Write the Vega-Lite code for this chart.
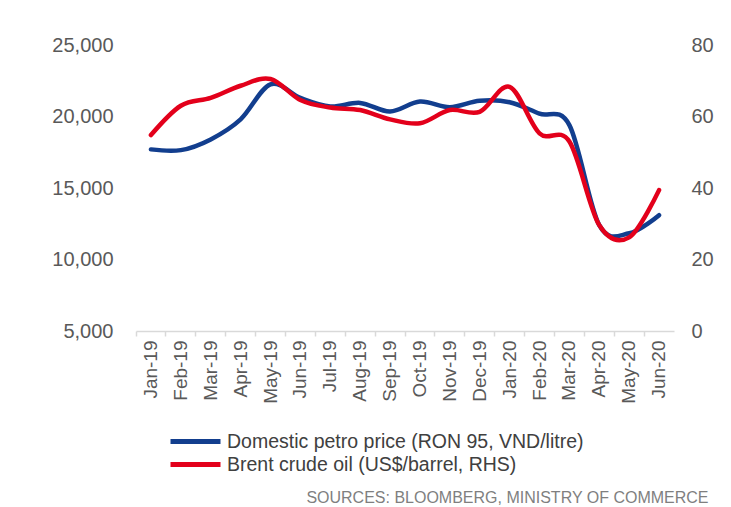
{
  "$schema": "https://vega.github.io/schema/vega-lite/v6.json",
  "width": 538,
  "height": 286,
  "autosize": {"type": "none"},
  "padding": {"left": 136, "top": 45, "right": 57, "bottom": 176},
  "background": "white",
  "config": {
    "view": {"stroke": null},
    "font": "Liberation Sans"
  },
  "data": {
    "values": [
      {"month": "Jan-19", "series": "Domestic petro price (RON 95, VND/litre)", "value": 17700},
      {"month": "Feb-19", "series": "Domestic petro price (RON 95, VND/litre)", "value": 17650},
      {"month": "Mar-19", "series": "Domestic petro price (RON 95, VND/litre)", "value": 18400},
      {"month": "Apr-19", "series": "Domestic petro price (RON 95, VND/litre)", "value": 19800},
      {"month": "May-19", "series": "Domestic petro price (RON 95, VND/litre)", "value": 22250},
      {"month": "Jun-19", "series": "Domestic petro price (RON 95, VND/litre)", "value": 21300},
      {"month": "Jul-19", "series": "Domestic petro price (RON 95, VND/litre)", "value": 20700},
      {"month": "Aug-19", "series": "Domestic petro price (RON 95, VND/litre)", "value": 20950},
      {"month": "Sep-19", "series": "Domestic petro price (RON 95, VND/litre)", "value": 20350},
      {"month": "Oct-19", "series": "Domestic petro price (RON 95, VND/litre)", "value": 21050},
      {"month": "Nov-19", "series": "Domestic petro price (RON 95, VND/litre)", "value": 20650},
      {"month": "Dec-19", "series": "Domestic petro price (RON 95, VND/litre)", "value": 21100},
      {"month": "Jan-20", "series": "Domestic petro price (RON 95, VND/litre)", "value": 21000},
      {"month": "Feb-20", "series": "Domestic petro price (RON 95, VND/litre)", "value": 20200},
      {"month": "Mar-20", "series": "Domestic petro price (RON 95, VND/litre)", "value": 19400},
      {"month": "Apr-20", "series": "Domestic petro price (RON 95, VND/litre)", "value": 12400},
      {"month": "May-20", "series": "Domestic petro price (RON 95, VND/litre)", "value": 11830},
      {"month": "Jun-20", "series": "Domestic petro price (RON 95, VND/litre)", "value": 13100},
      {"month": "Jan-19", "series": "Brent crude oil (US$/barrel, RHS)", "value": 54.8},
      {"month": "Feb-19", "series": "Brent crude oil (US$/barrel, RHS)", "value": 63.0},
      {"month": "Mar-19", "series": "Brent crude oil (US$/barrel, RHS)", "value": 65.2},
      {"month": "Apr-19", "series": "Brent crude oil (US$/barrel, RHS)", "value": 68.6},
      {"month": "May-19", "series": "Brent crude oil (US$/barrel, RHS)", "value": 70.5},
      {"month": "Jun-19", "series": "Brent crude oil (US$/barrel, RHS)", "value": 64.6},
      {"month": "Jul-19", "series": "Brent crude oil (US$/barrel, RHS)", "value": 62.5},
      {"month": "Aug-19", "series": "Brent crude oil (US$/barrel, RHS)", "value": 61.8},
      {"month": "Sep-19", "series": "Brent crude oil (US$/barrel, RHS)", "value": 59.2},
      {"month": "Oct-19", "series": "Brent crude oil (US$/barrel, RHS)", "value": 58.1},
      {"month": "Nov-19", "series": "Brent crude oil (US$/barrel, RHS)", "value": 61.8},
      {"month": "Dec-19", "series": "Brent crude oil (US$/barrel, RHS)", "value": 61.3},
      {"month": "Jan-20", "series": "Brent crude oil (US$/barrel, RHS)", "value": 68.3},
      {"month": "Feb-20", "series": "Brent crude oil (US$/barrel, RHS)", "value": 55.3},
      {"month": "Mar-20", "series": "Brent crude oil (US$/barrel, RHS)", "value": 53.0},
      {"month": "Apr-20", "series": "Brent crude oil (US$/barrel, RHS)", "value": 29.6},
      {"month": "May-20", "series": "Brent crude oil (US$/barrel, RHS)", "value": 26.2},
      {"month": "Jun-20", "series": "Brent crude oil (US$/barrel, RHS)", "value": 39.4}
    ]
  },
  "encoding": {
    "x": {
      "field": "month",
      "type": "ordinal",
      "sort": null,
      "scale": {"type": "band", "paddingInner": 0, "paddingOuter": 0},
      "axis": {
        "title": "SOURCES: BLOOMBERG, MINISTRY OF COMMERCE",
        "titleX": 572,
        "titleY": 171,
        "titleAlign": "right",
        "titleAnchor": null,
        "titleBaseline": "alphabetic",
        "titleFontSize": 16,
        "titleFontWeight": "normal",
        "titleColor": "#7f7f7f",
        "titleFont": "Liberation Sans",
        "labelAngle": -90,
        "labelFontSize": 19,
        "labelColor": "#595959",
        "labelFont": "Liberation Sans",
        "labelPadding": 4,
        "bandPosition": 0,
        "domainColor": "#d9d9d9",
        "domainWidth": 1.5,
        "tickColor": "#d9d9d9",
        "tickWidth": 1.5,
        "tickSize": 5,
        "grid": false
      }
    },
    "color": {
      "field": "series",
      "type": "nominal",
      "scale": {
        "domain": ["Domestic petro price (RON 95, VND/litre)", "Brent crude oil (US$/barrel, RHS)"],
        "range": ["#123e8e", "#e3001b"]
      },
      "legend": {
        "title": null,
        "orient": "none",
        "legendX": 47,
        "legendY": 384,
        "symbolType": "M-2.5,0H2.5",
        "symbolSize": 400,
        "symbolStrokeWidth": 5,
        "labelFontSize": 19.5,
        "labelColor": "#404040",
        "labelFont": "Liberation Sans",
        "labelOffset": 19,
        "rowPadding": 0,
        "labelLimit": 500
      }
    }
  },
  "layer": [
    {
      "transform": [{"filter": "datum.series === 'Domestic petro price (RON 95, VND/litre)'"}],
      "mark": {"type": "line", "interpolate": "cardinal", "strokeWidth": 4.5, "strokeCap": "round"},
      "encoding": {
        "y": {
          "field": "value",
          "type": "quantitative",
          "scale": {"domain": [5000, 25000], "nice": false},
          "axis": {
            "title": null,
            "orient": "left",
            "values": [5000, 10000, 15000, 20000, 25000],
            "format": ",.0f",
            "domain": false,
            "ticks": false,
            "grid": false,
            "labelFontSize": 20,
            "labelColor": "#595959",
            "labelFont": "Liberation Sans",
            "labelPadding": 23
          }
        }
      }
    },
    {
      "transform": [{"filter": "datum.series === 'Brent crude oil (US$/barrel, RHS)'"}],
      "mark": {"type": "line", "interpolate": "cardinal", "strokeWidth": 4.5, "strokeCap": "round"},
      "encoding": {
        "y": {
          "field": "value",
          "type": "quantitative",
          "scale": {"domain": [0, 80], "nice": false},
          "axis": {
            "title": null,
            "orient": "right",
            "values": [0, 20, 40, 60, 80],
            "domain": false,
            "ticks": false,
            "grid": false,
            "labelFontSize": 20,
            "labelColor": "#595959",
            "labelFont": "Liberation Sans",
            "labelPadding": 17
          }
        }
      }
    }
  ],
  "resolve": {"scale": {"y": "independent"}}
}
